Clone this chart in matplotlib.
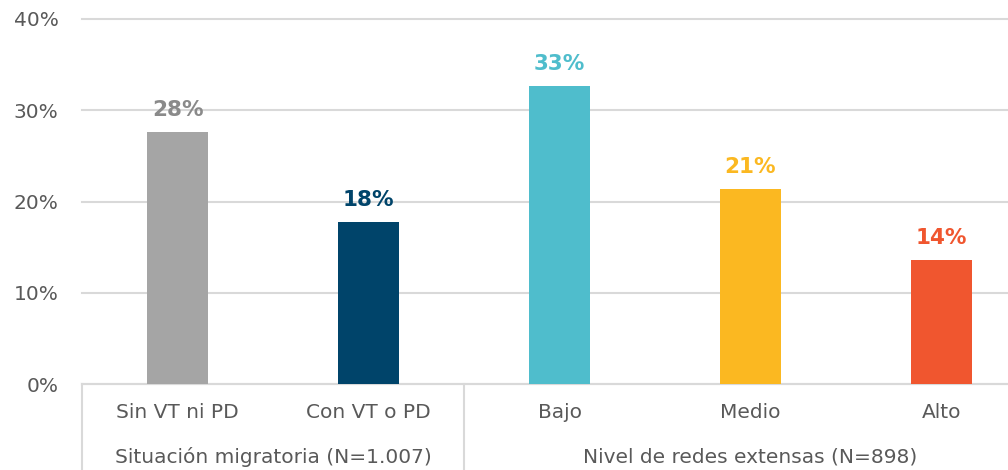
import numpy as np
import matplotlib.pyplot as plt
import matplotlib.transforms as mtransforms

categories = ["Sin VT ni PD", "Con VT o PD", "Bajo", "Medio", "Alto"]
values = [27.6, 17.8, 32.7, 21.4, 13.6]
value_labels = ["28%", "18%", "33%", "21%", "14%"]
bar_colors = ["#a5a5a5", "#00446a", "#4fbdcc", "#fbb821", "#f0562f"]
label_colors = ["#8a8a8a", "#00446a", "#4fbdcc", "#fbb821", "#f0562f"]
groups = ["Situación migratoria (N=1.007)", "Nivel de redes extensas (N=898)"]
group_spans = [(0, 1), (2, 4)]
yticks = [0, 10, 20, 30, 40]

plt.rcParams["font.family"] = ["DejaVu Sans"]
text_color = "#595959"
grid_color = "#d9d9d9"

fig = plt.figure(figsize=(10.08, 4.70), dpi=100)
ax = fig.add_axes([82 / 1008, 1 - 384 / 470, 955 / 1008, 365 / 470])

x = np.arange(len(categories))
ax.bar(x, values, width=0.32, color=bar_colors, zorder=3)
for xi, v, lab, c in zip(x, values, value_labels, label_colors):
    ax.text(xi, v + 1.3, lab, ha="center", va="bottom", fontsize=15.5,
            fontweight="bold", color=c)

ax.set_xlim(-0.5, 4.5)
ax.set_ylim(0, 40)
ax.set_yticks(yticks)
ax.set_yticklabels(["{}%".format(t) for t in yticks])
ax.yaxis.grid(True, color=grid_color, linewidth=1.5, zorder=0)
for gl in ax.get_ygridlines():
    gl.set_clip_on(False)
ax.tick_params(axis="y", length=0, pad=17, labelsize=14.5, labelcolor=text_color)
ax.set_xticks([])
for s in ["top", "right", "left"]:
    ax.spines[s].set_visible(False)
ax.spines["bottom"].set_color(grid_color)
ax.spines["bottom"].set_linewidth(1.5)

trans = mtransforms.blended_transform_factory(ax.transData, ax.transAxes)
for xi, cat in zip(x, categories):
    ax.text(xi, -29 / 365, cat, transform=trans, ha="center", va="center",
            fontsize=14.5, color=text_color)
for (a, b), g in zip(group_spans, groups):
    ax.text((a + b) / 2, -73 / 365, g, transform=trans, ha="center",
            va="center", fontsize=14.5, color=text_color)
    ax.plot([a - 0.5, a - 0.5], [0, -0.25], transform=trans, color=grid_color,
            linewidth=1.5, clip_on=False)
ax.plot([4.5, 4.5], [0, -0.25], transform=trans, color=grid_color,
        linewidth=1.5, clip_on=False)

fig.savefig("out.png", dpi=100)
